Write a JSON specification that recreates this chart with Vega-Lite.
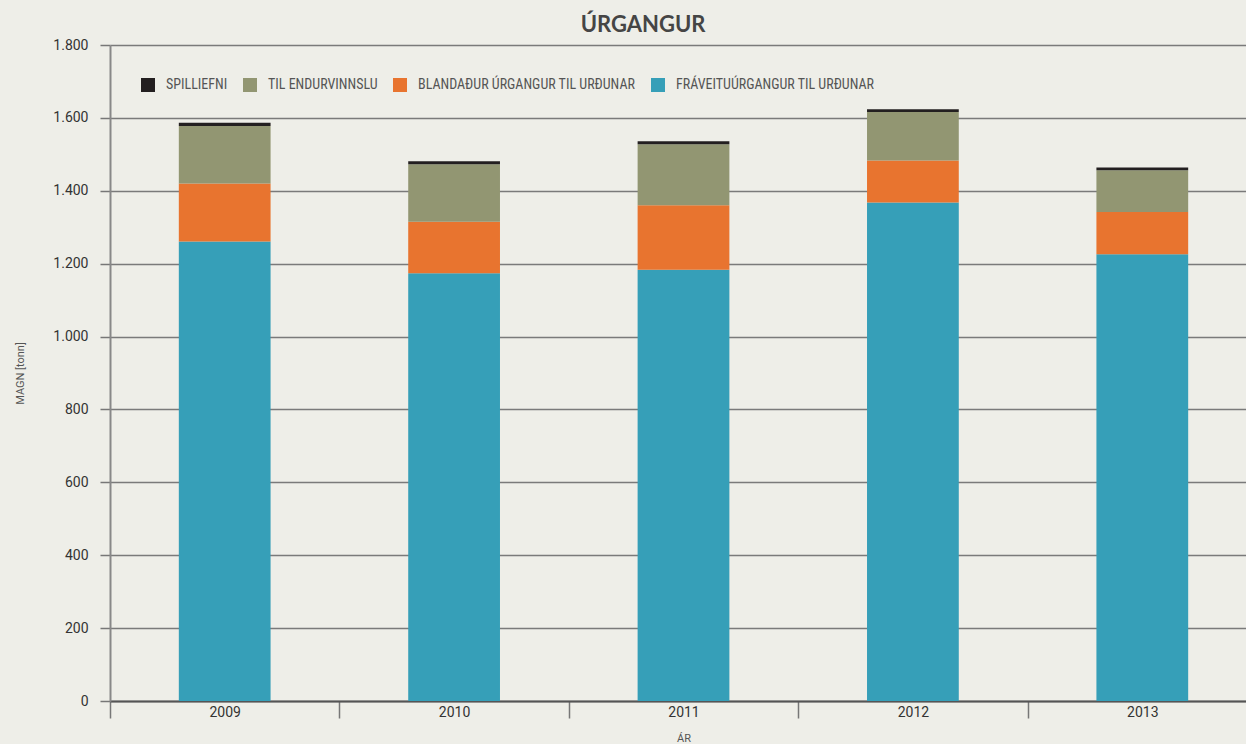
{
  "$schema": "https://vega.github.io/schema/vega-lite/v6.json",
  "width": 1136,
  "height": 656,
  "autosize": {"type": "none"},
  "padding": {"left": 110, "top": 45, "right": 0, "bottom": 43},
  "background": "#eeeee8",
  "title": {"text": "ÚRGANGUR", "fontSize": 22, "font": "Lato", "fontWeight": "bold", "color": "#454545", "anchor": "middle", "frame": "group", "offset": 1, "dx": -35},
  "data": {"values": [
    {"ar": "2009", "flokkur": "FRÁVEITUÚRGANGUR TIL URÐUNAR", "magn": 1261},
    {"ar": "2009", "flokkur": "BLANDAÐUR ÚRGANGUR TIL URÐUNAR", "magn": 159},
    {"ar": "2009", "flokkur": "TIL ENDURVINNSLU", "magn": 158},
    {"ar": "2009", "flokkur": "SPILLIEFNI", "magn": 9},
    {"ar": "2010", "flokkur": "FRÁVEITUÚRGANGUR TIL URÐUNAR", "magn": 1174},
    {"ar": "2010", "flokkur": "BLANDAÐUR ÚRGANGUR TIL URÐUNAR", "magn": 141},
    {"ar": "2010", "flokkur": "TIL ENDURVINNSLU", "magn": 158},
    {"ar": "2010", "flokkur": "SPILLIEFNI", "magn": 8},
    {"ar": "2011", "flokkur": "FRÁVEITUÚRGANGUR TIL URÐUNAR", "magn": 1183},
    {"ar": "2011", "flokkur": "BLANDAÐUR ÚRGANGUR TIL URÐUNAR", "magn": 177},
    {"ar": "2011", "flokkur": "TIL ENDURVINNSLU", "magn": 168},
    {"ar": "2011", "flokkur": "SPILLIEFNI", "magn": 8},
    {"ar": "2012", "flokkur": "FRÁVEITUÚRGANGUR TIL URÐUNAR", "magn": 1368},
    {"ar": "2012", "flokkur": "BLANDAÐUR ÚRGANGUR TIL URÐUNAR", "magn": 115},
    {"ar": "2012", "flokkur": "TIL ENDURVINNSLU", "magn": 133},
    {"ar": "2012", "flokkur": "SPILLIEFNI", "magn": 8},
    {"ar": "2013", "flokkur": "FRÁVEITUÚRGANGUR TIL URÐUNAR", "magn": 1226},
    {"ar": "2013", "flokkur": "BLANDAÐUR ÚRGANGUR TIL URÐUNAR", "magn": 116},
    {"ar": "2013", "flokkur": "TIL ENDURVINNSLU", "magn": 114},
    {"ar": "2013", "flokkur": "SPILLIEFNI", "magn": 8}
  ]},
  "transform": [
    {"calculate": "indexof(['FRÁVEITUÚRGANGUR TIL URÐUNAR','BLANDAÐUR ÚRGANGUR TIL URÐUNAR','TIL ENDURVINNSLU','SPILLIEFNI'], datum.flokkur)", "as": "rod"}
  ],
  "mark": {"type": "bar", "width": {"band": 0.4}},
  "encoding": {
    "x": {
      "field": "ar", "type": "ordinal",
      "scale": {"range": [0, 1147], "paddingInner": 0, "paddingOuter": 0},
      "axis": {
        "title": "ÁR", "titleFont": "Roboto", "titleFontSize": 11, "titleFontWeight": "normal", "titleColor": "#555555",
        "titleY": 31, "titleBaseline": "top",
        "labelAngle": 0, "labelFont": "Roboto", "labelFontSize": 14, "labelColor": "#333333", "labelPadding": -13,
        "tickBand": "extent", "tickSize": 17, "tickColor": "#777777", "tickWidth": 1.5,
        "domainColor": "#555555", "domainWidth": 2, "grid": false
      }
    },
    "y": {
      "field": "magn", "type": "quantitative", "stack": "zero",
      "scale": {"domain": [0, 1800], "nice": false},
      "axis": {
        "title": "MAGN [tonn]", "titleFont": "Roboto", "titleFontSize": 11, "titleFontWeight": "normal", "titleColor": "#555555",
        "titleX": -90, "titleY": 328, "titleBaseline": "middle", "titleAlign": "center",
        "values": [0, 200, 400, 600, 800, 1000, 1200, 1400, 1600, 1800],
        "labelExpr": "replace(format(datum.value, ','), ',', '.')",
        "labelFont": "Roboto", "labelFontSize": 14, "labelColor": "#333333", "labelPadding": 12,
        "tickSize": 10, "tickColor": "#777777", "tickWidth": 1.5,
        "domainColor": "#888888", "domainWidth": 2,
        "grid": true, "gridColor": "#7a7a7a", "gridWidth": 1.5
      }
    },
    "color": {
      "field": "flokkur", "type": "nominal",
      "scale": {
        "domain": ["SPILLIEFNI", "TIL ENDURVINNSLU", "BLANDAÐUR ÚRGANGUR TIL URÐUNAR", "FRÁVEITUÚRGANGUR TIL URÐUNAR"],
        "range": ["#231f20", "#929672", "#e8742f", "#369fb8"]
      },
      "legend": {
        "title": null, "orient": "none", "legendX": 31, "legendY": 33, "direction": "horizontal",
        "symbolType": "square", "symbolSize": 196, "symbolStrokeWidth": 0, "symbolOpacity": 1,
        "labelFont": "Liberation Sans Narrow, Roboto Condensed, DejaVu Sans Condensed, Roboto", "labelFontSize": 14, "labelColor": "#555555",
        "labelOffset": 11, "columnPadding": 15, "padding": 0, "labelLimit": 400
      }
    },
    "order": {"field": "rod", "type": "quantitative", "sort": "ascending"}
  },
  "config": {"view": {"stroke": null}}
}
